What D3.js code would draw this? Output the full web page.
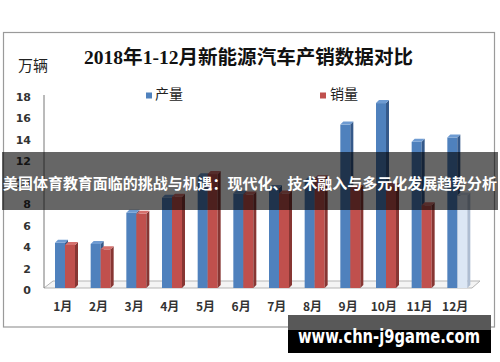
<!DOCTYPE html>
<html lang="zh">
<head>
<meta charset="UTF-8">
<title>2018年1-12月新能源汽车产销数据对比</title>
<style>
  html, body { margin: 0; padding: 0; background: #fff; }
  svg { display: block; }
  text { font-family: "Noto Sans CJK SC", "DejaVu Sans", sans-serif; }
</style>
</head>
<body>
<div id="target"></div>
<script src="https://d3js.org/d3.v7.min.js"></script>
<script>
const months = ["1月", "2月", "3月", "4月", "5月", "6月", "7月", "8月", "9月", "10月", "11月", "12月"];
const production = [4.2, 4.1, 7.0, 8.4, 10.4, 8.8, 9.3, 10.0, 15.2, 17.2, 13.6, 14.0];
const sales = [4.0, 3.6, 6.9, 8.5, 10.6, 8.7, 8.8, 10.2, 9.3, 9.5, 7.7, 8.6];
const yTicks = [0, 2, 4, 6, 8, 10, 12, 14, 16, 18];
const seriesNames = ["产量", "销量"];

const width = 500, height = 362;
const svg = d3.select("#target").append("svg")
  .attr("width", width).attr("height", height);

// chart frame
svg.append("rect")
  .attr("x", 3.5).attr("y", 32.5).attr("width", 491).attr("height", 294.5)
  .attr("fill", "#fff").attr("stroke", "#9a9a9a").attr("stroke-width", 1.2);

svg.append("text")
  .attr("x", 84).attr("y", 64)
  .attr("textLength", 329).attr("lengthAdjust", "spacingAndGlyphs")
  .style("font-family", "'Liberation Serif', 'Noto Sans CJK SC', serif")
  .style("font-size", "19px").style("font-weight", "bold").attr("fill", "#111")
  .text("2018年1-12月新能源汽车产销数据对比");

svg.append("text")
  .attr("x", 18).attr("y", 71)
  .style("font-size", "15px").attr("fill", "#222")
  .text("万辆");

const x = d3.scaleBand().domain(months).range([45, 473]);
const y = d3.scaleLinear().domain([0, 18]).range([290, 96.5]);

// floor
svg.append("path")
  .attr("d", "M44,288 L53,281 L480,281 L472,288 Z")
  .attr("fill", "#f4f4f4").attr("stroke", "#b5b5b5").attr("stroke-width", 1);

// y axis
const yAxis = svg.append("g")
  .attr("transform", "translate(44,0)")
  .call(d3.axisLeft(y).tickValues(yTicks).tickSize(0).tickPadding(13).tickFormat(d3.format("d")));
yAxis.select(".domain").attr("stroke", "#777").attr("d", "M0,95V288");
yAxis.selectAll("text")
  .style("font-family", "'DejaVu Sans', sans-serif")
  .style("font-size", "11px").style("font-weight", "bold").attr("fill", "#333");

// x axis
const xAxis = svg.append("g")
  .attr("transform", "translate(0,302)")
  .call(d3.axisBottom(x).tickSize(0).tickPadding(0));
xAxis.select(".domain").remove();
xAxis.selectAll("text")
  .style("font-size", "12px").style("font-weight", "bold").attr("fill", "#333");

// 3d bars
const faces = [
  { front: "#4f81bd", side: "#35598a", top: "#6e9bd2" },
  { front: "#c0504d", side: "#873633", top: "#d5706d" }
];
const pale = { front: "#dce7f5", side: "#aebdd2", top: "#c7d5e8" };
const bw = 10, dep = 3;
const base = y(0) - 2;

const bars = svg.append("g");
months.forEach((m, i) => {
  [production[i], sales[i]].forEach((v, s) => {
    const c = (s === 1 && i === 11) ? pale : faces[s];
    const x0 = x(m) + 10 + s * bw;
    const top = y(v) - 2;
    const g = bars.append("g");
    g.append("rect").attr("x", x0).attr("y", top)
      .attr("width", bw).attr("height", base - top).attr("fill", c.front);
    g.append("path")
      .attr("d", `M${x0 + bw},${top} L${x0 + bw + dep},${top - dep} L${x0 + bw + dep},${base - dep} L${x0 + bw},${base} Z`)
      .attr("fill", c.side);
    g.append("path")
      .attr("d", `M${x0},${top} L${x0 + dep},${top - dep} L${x0 + bw + dep},${top - dep} L${x0 + bw},${top} Z`)
      .attr("fill", c.top);
  });
});

// legend
const legend = svg.append("g");
[[146, 155], [320, 330]].forEach((p, i) => {
  legend.append("rect").attr("x", p[0]).attr("y", 92.5)
    .attr("width", 6).attr("height", 6).attr("fill", faces[i].front);
  legend.append("text").attr("x", p[1]).attr("y", 99)
    .style("font-size", "14px").attr("fill", "#222").text(seriesNames[i]);
});

// overlay banner
svg.append("rect")
  .attr("x", 2).attr("y", 152).attr("width", 496).attr("height", 58)
  .attr("fill", "#000").attr("fill-opacity", 0.6);
svg.append("text")
  .attr("x", 3).attr("y", 188.5)
  .attr("textLength", 494).attr("lengthAdjust", "spacingAndGlyphs")
  .style("font-size", "14.5px").style("font-weight", "bold").attr("fill", "#fff")
  .text("美国体育教育面临的挑战与机遇：现代化、技术融入与多元化发展趋势分析");

// watermark
svg.append("rect").attr("x", 288).attr("y", 315).attr("width", 203).attr("height", 15)
  .attr("fill", "#585858");
svg.append("rect").attr("x", 288).attr("y", 330).attr("width", 203).attr("height", 23)
  .attr("fill", "#000");
svg.append("text")
  .attr("x", 298).attr("y", 343)
  .attr("textLength", 182).attr("lengthAdjust", "spacingAndGlyphs")
  .style("font-family", "'DejaVu Sans', sans-serif")
  .style("font-size", "19px").style("font-weight", "bold").attr("fill", "#fff")
  .text("www.chn-j9game.com");
</script>
</body>
</html>
